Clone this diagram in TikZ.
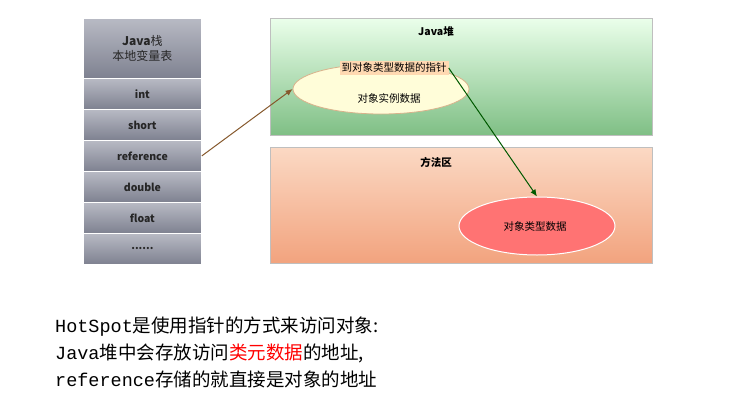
\documentclass[tikz,border=0pt]{standalone}
\usepackage{fontspec}
\setmainfont{Noto Sans CJK SC}
\setmonofont{Liberation Mono}
\newfontfamily\cjk{Noto Sans CJK SC}
\usetikzlibrary{arrows.meta,shapes.geometric}
\definecolor{cellA}{HTML}{B8BAC4}
\definecolor{cellB}{HTML}{7E8190}
\definecolor{heapB}{HTML}{7FBF85}
\definecolor{methA}{HTML}{FBD9C4}
\definecolor{methB}{HTML}{F2A37E}
\tikzset{
 cell/.style={draw=white,line width=0.8pt,top color=cellA,bottom color=cellB,minimum width=118pt,anchor=north west,inner sep=0pt,font=\bfseries\fontsize{10.5}{12}\selectfont,text=black!85},
 conn/.style={draw=brown!70!black,line width=1pt,-{Latex[length=7pt,width=6pt]}},
 btxt/.style={anchor=west,font=\fontsize{18.5}{20}\selectfont,inner sep=0pt},
 lbl/.style={font=\fontsize{10.5}{12}\selectfont}
}
\begin{document}
\begin{tikzpicture}[x=1pt,y=-1pt]
\useasboundingbox (0,0) rectangle (732,410);
\fill[white] (0,0) rectangle (732,410);
% stack
\node[cell,minimum height=60pt,align=center,font=\fontsize{12}{15}\selectfont] (hdr) at (83,18) {\textbf{Java}栈\\本地变量表};
\node[cell,minimum height=31pt] (int) at (83,78) {int};
\node[cell,minimum height=31pt] (short) at (83,109) {short};
\node[cell,minimum height=31pt] (ref) at (83,140) {reference};
\node[cell,minimum height=31pt] (dbl) at (83,171) {double};
\node[cell,minimum height=31pt] (flt) at (83,202) {float};
\node[cell,minimum height=31pt] (dots) at (83,233) {......};
% heap
\node[draw=black!25,top color=green!8!white,bottom color=heapB,minimum width=382pt,minimum height=117pt,anchor=north west] (heap) at (270,18) {};
\node[font=\bfseries\fontsize{10.5}{12}\selectfont] (heapt) at (436,32) {Java堆};
\node[draw=black!25,top color=methA,bottom color=methB,minimum width=382pt,minimum height=116pt,anchor=north west] (meth) at (270,147) {};
\node[font=\bfseries\fontsize{10.5}{12}\selectfont] (metht) at (436,162) {方法区};
\node[ellipse,draw=brown!60,line width=0.8pt,fill=yellow!15!white,minimum width=176pt,minimum height=50pt] (obj) at (381,89) {};
\node[lbl,fill=orange!30,inner sep=2pt] (ptr) at (394,68) {到对象类型数据的指针};
\node[lbl] (inst) at (389,98) {对象实例数据};
\node[ellipse,draw=white,line width=1pt,fill=red!55!white,minimum width=156pt,minimum height=58pt] (type) at (537,226) {};
\node[lbl] (typet) at (535,227) {对象类型数据};
\draw[conn] (ref.east) -- (obj.west);
\draw[draw=green!35!black,line width=1pt,-{Latex[length=7pt,width=6pt]}] (ptr.east) -- (type.north);
% bottom text
\node[btxt] (l1) at (55,327) {\texttt{HotSpot}是使用指针的方式来访问对象:};
\node[btxt] (l2) at (55,353) {\texttt{Java}堆中会存放访问\textcolor{red}{类元数据}的地址,};
\node[btxt] (l3) at (55,379) {\texttt{reference}存储的就直接是对象的地址};
\end{tikzpicture}
\end{document}
